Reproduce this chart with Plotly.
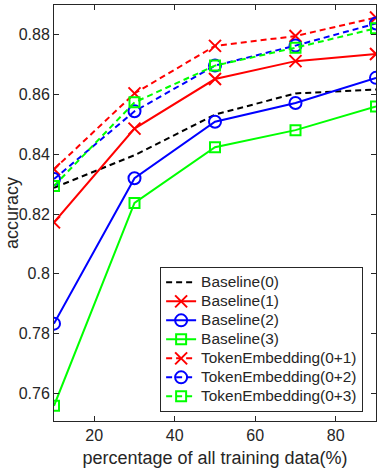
import plotly.graph_objects as go

x_pct = [10, 30, 50, 70, 90]
baseline0 = [0.8288, 0.8397, 0.8533, 0.8604, 0.8617]
baseline1 = [0.8172, 0.8486, 0.8652, 0.8712, 0.8736]
baseline2 = [0.7833, 0.8320, 0.8509, 0.8572, 0.8656]
baseline3 = [0.7558, 0.8237, 0.8424, 0.8481, 0.8560]
te01 = [0.8350, 0.8604, 0.8763, 0.8796, 0.8858]
te02 = [0.8317, 0.8544, 0.8697, 0.8764, 0.8838]
te03 = [0.8294, 0.8574, 0.8697, 0.8757, 0.8822]

x_ticks = [20, 40, 60, 80]
y_ticks = [0.76, 0.78, 0.80, 0.82, 0.84, 0.86, 0.88]
y_tick_text = ["0.76", "0.78", "0.8", "0.82", "0.84", "0.86", "0.88"]

series = [
    ("Baseline(0)", baseline0, "#000000", "dash", None, 0),
    ("Baseline(1)", baseline1, "#FF0000", "solid", "x-thin-open", 12),
    ("Baseline(2)", baseline2, "#0000FF", "solid", "circle-open", 12),
    ("Baseline(3)", baseline3, "#00FF00", "solid", "square-open", 10),
    ("TokenEmbedding(0+1)", te01, "#FF0000", "dash", "x-thin-open", 12),
    ("TokenEmbedding(0+2)", te02, "#0000FF", "dash", "circle-open", 12),
    ("TokenEmbedding(0+3)", te03, "#00FF00", "dash", "square-open", 10),
]

fig = go.Figure()
for name, vals, color, dash, sym, size in series:
    d = "6px,4px" if dash == "dash" else "solid"
    label = '<span style="font-size:15.4px">' + name + '</span>'
    if sym is None:
        fig.add_trace(go.Scatter(x=x_pct, y=vals, name=label, mode="lines",
                                 line=dict(color=color, width=2, dash=d)))
    else:
        fig.add_trace(go.Scatter(x=x_pct, y=vals, name=label, mode="lines+markers",
                                 line=dict(color=color, width=2, dash=d),
                                 marker=dict(symbol=sym, size=size, color=color,
                                             line=dict(color=color, width=2))))

axis_color = "#262626"
font_family = "Liberation Sans, Arial, sans-serif"
fig.update_layout(
    width=379, height=473,
    margin=dict(l=54, r=3, t=5, b=52),
    plot_bgcolor="white", paper_bgcolor="white",
    font=dict(family=font_family, size=16, color=axis_color),
    showlegend=True,
    legend=dict(x=0.96, y=0.022, xanchor="right", yanchor="bottom",
                bgcolor="white", bordercolor=axis_color, borderwidth=1,
                font=dict(size=11.5, color=axis_color), tracegroupgap=0,
                itemwidth=30),
    xaxis=dict(range=[10, 90], tickvals=x_ticks, ticks="inside", ticklen=5,
               tickcolor=axis_color, showline=True, linecolor=axis_color,
               linewidth=1, mirror="allticks", showgrid=False, zeroline=False,
               title=dict(text="percentage of all training data(%)", standoff=8,
                          font=dict(size=18)),
               tickfont=dict(size=16)),
    yaxis=dict(range=[0.7507, 0.8900], tickvals=y_ticks, ticktext=y_tick_text,
               ticks="inside", ticklen=5, tickcolor=axis_color, showline=True,
               linecolor=axis_color, linewidth=1, mirror="allticks",
               showgrid=False, zeroline=False,
               tickfont=dict(size=16)),
    annotations=[dict(text="accuracy", xref="paper", yref="paper", x=0, y=0.5,
                      xanchor="center", yanchor="middle", xshift=-42,
                      textangle=-90, showarrow=False, borderpad=0,
                      font=dict(size=18, color=axis_color))],
)

fig.write_html("out.html")
